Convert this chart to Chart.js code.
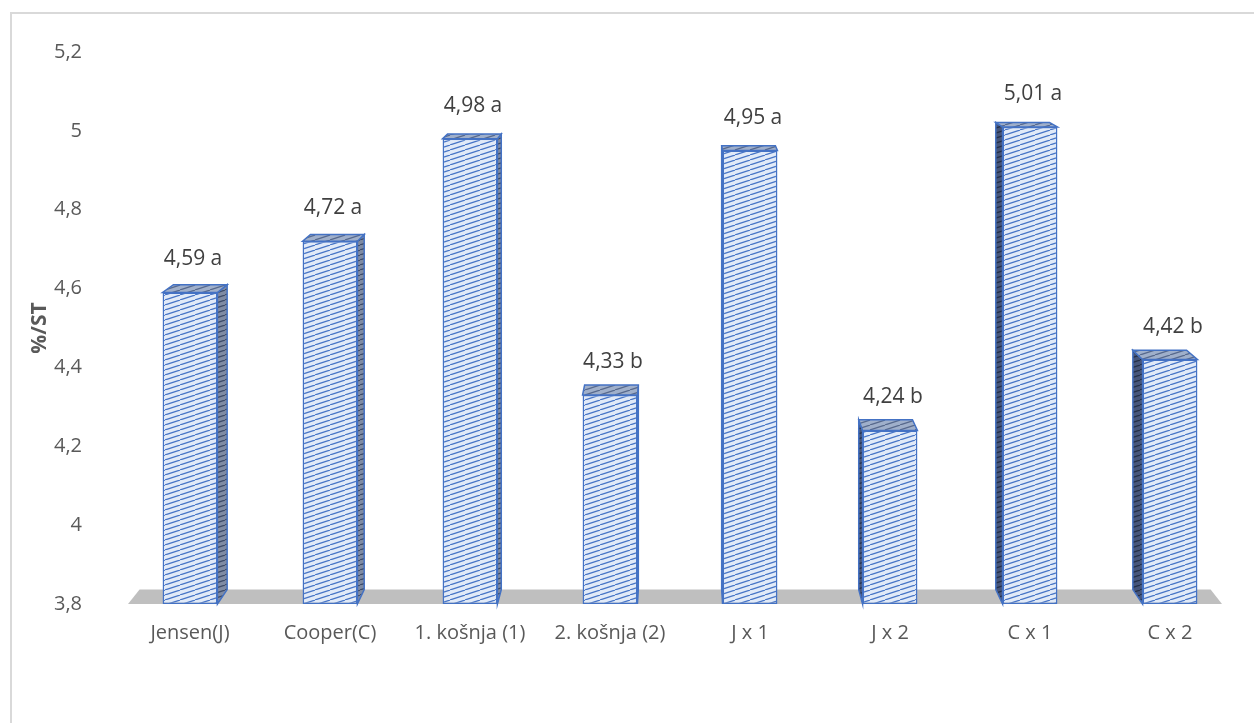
<!DOCTYPE html>
<html>
<head>
<meta charset="utf-8">
<script src="https://cdn.jsdelivr.net/npm/chart.js@4.4.1/dist/chart.umd.min.js"></script>
<style>
   html, body { margin: 0; padding: 0; background: #ffffff; }
   #wrap { width: 1254px; height: 723px; }
</style>
</head>
<body>
<div id="wrap"><canvas id="fatChart" width="1254" height="723"></canvas></div>
<script>
// #region Data
const categories = ['Jensen(J)', 'Cooper(C)', '1. košnja (1)', '2. košnja (2)', 'J x 1', 'J x 2', 'C x 1', 'C x 2'];
const fatValues = [4.59, 4.72, 4.98, 4.33, 4.95, 4.24, 5.01, 4.42];
const letterGroups = ['a', 'a', 'a', 'b', 'a', 'b', 'a', 'b'];
const yTicks = [3.8, 4, 4.2, 4.4, 4.6, 4.8, 5, 5.2];
const yTitle = '%/ST';
// #endregion

const FONT = "'Open Sans', 'Noto Sans', sans-serif";
const BORDER_BLUE = '#4472c4';
const DEPTH_K = 0.021;

// ***********************
// Name:    makeHatch
// Purpose: builds a diagonal hatch pattern for the bar faces
// *************************
function makeHatch(bg, line) {
   const c = document.createElement('canvas');
   const w = 15, h = 5;
   c.width = w; c.height = h;
   const g = c.getContext('2d');
   g.fillStyle = bg;
   g.fillRect(0, 0, w, h);
   g.strokeStyle = line;
   g.lineWidth = 1.2;
   [-w, 0, w].forEach(function (off) {
      g.beginPath();
      g.moveTo(off, h);
      g.lineTo(off + w, 0);
      g.stroke();
   });
   return g.createPattern(c, 'repeat');
}

const frontHatch = makeHatch('#e1eaf8', '#4674c6');
const topHatch = makeHatch('#9fafca', '#56688c');
const sideHatchR = makeHatch('#7f8ba3', '#3c4a68');
const sideHatchL = makeHatch('#46557a', '#232f48');

function fmt(v) {
   return String(Math.round(v * 100) / 100).replace('.', ',');
}

// perspective point toward the vanishing point behind the plot
function backPt(p, vx, vy) {
   return [p[0] + (vx - p[0]) * DEPTH_K, p[1] + (vy - p[1]) * DEPTH_K];
}

function fillPoly(ctx, pts, fill, stroke) {
   ctx.beginPath();
   ctx.moveTo(pts[0][0], pts[0][1]);
   for (let i = 1; i < pts.length; i++) ctx.lineTo(pts[i][0], pts[i][1]);
   ctx.closePath();
   ctx.fillStyle = fill;
   ctx.fill();
   if (stroke) {
      ctx.strokeStyle = stroke;
      ctx.lineWidth = 1.5;
      ctx.stroke();
   }
}

const depthPlugin = {
   id: 'depth3d',
   beforeDraw(chart) {
      const ctx = chart.ctx;
      ctx.save();
      ctx.fillStyle = '#ffffff';
      ctx.fillRect(0, 0, chart.width, chart.height);
      ctx.strokeStyle = '#d9d9d9';
      ctx.lineWidth = 2;
      ctx.strokeRect(11, 13, chart.width + 20, chart.height + 20);
      ctx.restore();
   },
   beforeDatasetsDraw(chart) {
      const ctx = chart.ctx;
      const area = chart.chartArea;
      const vx = (area.left + area.right) / 2;
      const vy = area.top - 135;
      const base = chart.scales.y.getPixelForValue(yTicks[0]);
      ctx.save();

      // floor
      const fl = [area.left + 8, base], fr = [area.right - 18, base];
      fillPoly(ctx, [fl, fr, backPt(fr, vx, vy), backPt(fl, vx, vy)], '#bfbfbf', null);

      // side and top faces of each bar
      chart.getDatasetMeta(0).data.forEach(function (bar) {
         const p = bar.getProps(['x', 'y', 'width'], true);
         const L = p.x - p.width / 2, R = p.x + p.width / 2;
         const T = p.y, B = base;
         if (R < vx) {
            fillPoly(ctx, [[R, T], [R, B], backPt([R, B], vx, vy), backPt([R, T], vx, vy)], sideHatchR, BORDER_BLUE);
         }
         if (L > vx) {
            fillPoly(ctx, [[L, T], [L, B], backPt([L, B], vx, vy), backPt([L, T], vx, vy)], sideHatchL, BORDER_BLUE);
         }
         fillPoly(ctx, [[L, T], [R, T], backPt([R, T], vx, vy), backPt([L, T], vx, vy)], topHatch, BORDER_BLUE);
      });
      ctx.restore();
   },
   afterDatasetsDraw(chart) {
      const ctx = chart.ctx;
      ctx.save();
      ctx.font = '21px ' + FONT;
      ctx.fillStyle = '#404040';
      ctx.textAlign = 'center';
      ctx.textBaseline = 'middle';
      chart.getDatasetMeta(0).data.forEach(function (bar, i) {
         const p = bar.getProps(['x', 'y'], true);
         ctx.fillText(fmt(fatValues[i]) + ' ' + letterGroups[i], p.x + 3, p.y - 33);
      });
      ctx.restore();
   }
};

const config = {
   type: 'bar',
   data: {
      labels: categories,
      datasets: [{
         data: fatValues,
         base: yTicks[0],
         backgroundColor: frontHatch,
         borderColor: BORDER_BLUE,
         borderWidth: 1.5,
         borderSkipped: false,
         barPercentage: 0.49,
         categoryPercentage: 0.8
      }]
   },
   options: {
      responsive: false,
      animation: false,
      devicePixelRatio: 1,
      layout: { padding: { top: 52, left: 11, right: 14, bottom: 61 } },
      plugins: {
         legend: { display: false },
         tooltip: { enabled: false }
      },
      scales: {
         x: {
            grid: { display: false, drawTicks: false },
            border: { display: false },
            ticks: {
               padding: 17,
               color: '#595959',
               font: { family: FONT, size: 20 },
               maxRotation: 0
            }
         },
         y: {
            min: 3.8,
            max: 5.2,
            afterBuildTicks: function (scale) {
               scale.ticks = yTicks.map(function (v) { return { value: v }; });
            },
            afterFit: function (scale) {
               scale.width = 109;
            },
            grid: { display: false, drawTicks: false },
            border: { display: false },
            ticks: {
               padding: 38,
               color: '#595959',
               font: { family: FONT, size: 20 },
               callback: function (v) { return fmt(v); }
            },
            title: {
               display: true,
               text: yTitle,
               color: '#595959',
               font: { family: FONT, size: 21, weight: 'bold' },
               padding: { top: 16, bottom: 0 }
            }
         }
      }
   },
   plugins: [depthPlugin]
};

new Chart(document.getElementById('fatChart'), config);
</script>
</body>
</html>
